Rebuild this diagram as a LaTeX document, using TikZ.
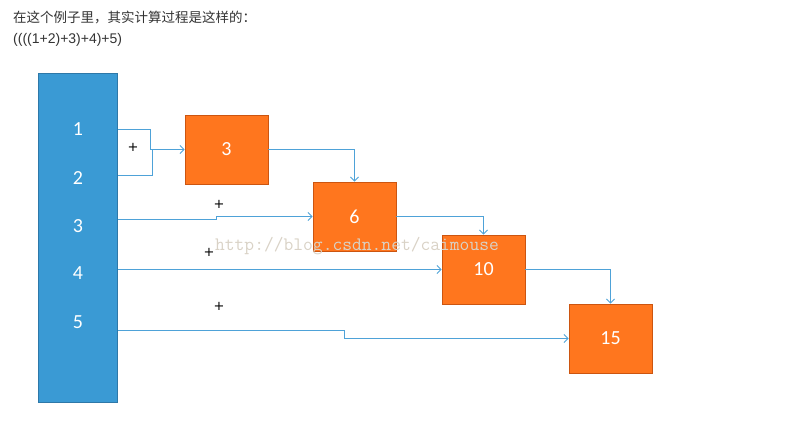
\documentclass[tikz,border=0pt]{standalone}
\usepackage{fontspec}
\setmainfont{Carlito}
\newfontfamily\cjk{Noto Sans CJK SC}
\newfontfamily\arialf{Liberation Sans}
\newfontfamily\dejav{DejaVu Sans}
\usetikzlibrary{arrows.meta}
\definecolor{barblue}{HTML}{3A9AD4}
\definecolor{baredge}{HTML}{2E78A8}
\definecolor{boxorange}{HTML}{FF761E}
\definecolor{boxedge}{HTML}{CC5510}
\definecolor{linkblue}{HTML}{4EA2D8}
\definecolor{headtext}{HTML}{333333}
\definecolor{wmark}{HTML}{D9D2C6}
\tikzset{
  bar/.style={draw=baredge, fill=barblue, line width=0.8pt, minimum width=79pt, minimum height=329pt, inner sep=0pt},
  num/.style={text=white, font=\fontsize{20}{22}\selectfont, inner sep=0pt},
  obox/.style={draw=boxedge, fill=boxorange, line width=0.8pt, minimum width=83pt, minimum height=69pt, inner sep=0pt, text=white, font=\fontsize{20}{22}\selectfont},
  link/.style={draw=linkblue, line width=0.9pt},
  conn/.style={link, -{Straight Barb[length=4pt,width=8pt,line width=0.9pt]}},
  plus/.style={font=\dejav\fontsize{13}{15}\selectfont, text=black, inner sep=0pt},
  head/.style={anchor=west, inner sep=0pt, text=headtext},
}
\begin{document}
\begin{tikzpicture}[x=1pt,y=-1pt]
\useasboundingbox (0,0) rectangle (797,429);
% header
\node[head, font=\cjk\fontsize{13.5}{16}\selectfont] (h1) at (13,18) {在这个例子里，其实计算过程是这样的：};
\node[head, font=\arialf\fontsize{14}{16}\selectfont] (h2) at (13,40) {((((1+2)+3)+4)+5)};
% bar
\node[bar, anchor=north west] (bar) at (38,73) {};
\node[num] (n1) at (78,129) {1};
\node[num] (n2) at (78,178) {2};
\node[num] (n3) at (78,226) {3};
\node[num] (n4) at (78,273) {4};
\node[num] (n5) at (78,322) {5};
% result boxes
\node[obox] (b3) at (226.5,149.5) {3};
\node[obox] (b6) at (354.5,216.5) {6};
\node[obox] (b10) at (483.5,269.5) {10};
\node[obox] (b15) at (610.5,338.5) {15};
% start points on bar
\coordinate (s1) at (118,129);
\coordinate (s2) at (118,175);
\coordinate (s3) at (118,219);
\coordinate (s4) at (118,269.5);
\coordinate (s5) at (118,330);
\coordinate (j1) at (150,129);
\coordinate (j2) at (150,149.5);
\coordinate (j3) at (152,175);
\coordinate (k1) at (216,219);
\coordinate (k2) at (216,216.5);
\coordinate (m1) at (344,330);
\coordinate (m2) at (344,338.5);
% connectors
\draw[conn] (s1) -- (j1) -- (j2) -- (b3.west);
\draw[link] (s2) -- (j3) |- (j2);
\draw[conn] (b3.east) -| (b6.north);
\draw[conn] (s3) -- (k1) -- (k2) -- (b6.west);
\draw[conn] (b6.east) -| (b10.north);
\draw[conn] (s4) -- (b10.west);
\draw[conn] (b10.east) -| (b15.north);
\draw[conn] (s5) -- (m1) -- (m2) -- (b15.west);
% plus signs
\node[plus] (p1) at (133,147) {+};
\node[plus] (p2) at (219,204) {+};
\node[plus] (p3) at (209,252) {+};
\node[plus] (p4) at (219,306) {+};
% watermark
\node[text=wmark, font=\ttfamily\fontsize{19}{21}\selectfont, inner sep=0pt] (wm) at (357,246) {http://blog.csdn.net/caimouse};
\end{tikzpicture}
\end{document}
